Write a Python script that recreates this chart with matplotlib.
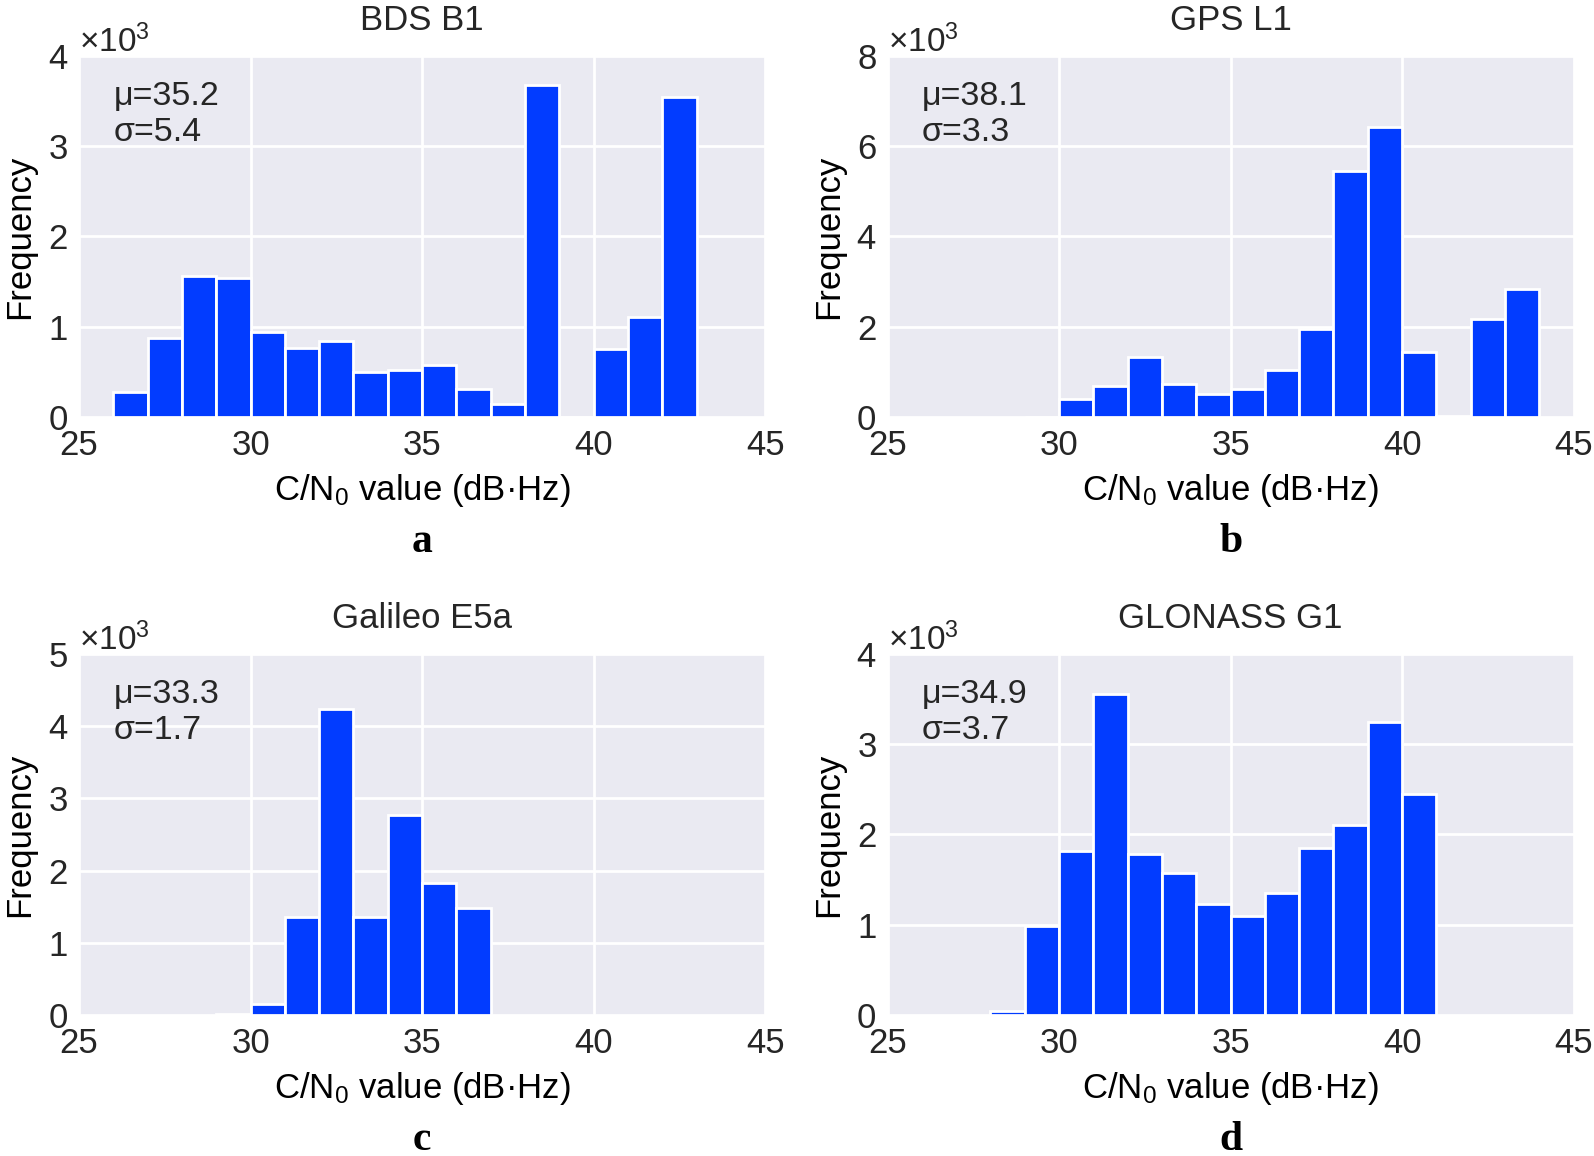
import matplotlib
matplotlib.use('Agg')
import matplotlib.pyplot as plt
import numpy as np

# Histogram counts per 1 dB-Hz bin
bds_start = 26
bds_counts = [280, 880, 1557, 1545, 938, 766, 838, 503, 523, 571, 315, 148, 3680, 0, 754, 1106, 3550]

gps_start = 29
gps_counts = [10, 390, 690, 1330, 730, 500, 630, 1040, 1960, 5460, 6430, 1450, 30, 2170, 2840]

gal_start = 29
gal_counts = [10, 150, 1360, 4240, 1350, 2770, 1830, 1480]

glo_start = 28
glo_counts = [40, 990, 1820, 3560, 1780, 1570, 1230, 1100, 1350, 1850, 2100, 3250, 2450]

titles = ['BDS B1', 'GPS L1', 'Galileo E5a', 'GLONASS G1']
panel_letters = ['a', 'b', 'c', 'd']
means = [35.2, 38.1, 33.3, 34.9]
stds = [5.4, 3.3, 1.7, 3.7]
ymax = [4000, 8000, 5000, 4000]
ystep = [1000, 2000, 1000, 1000]

plt.rcParams['font.family'] = ['Liberation Sans', 'DejaVu Sans']
plt.rcParams['mathtext.fontset'] = 'custom'
plt.rcParams['mathtext.rm'] = 'Liberation Sans'
plt.rcParams['mathtext.it'] = 'Liberation Sans:italic'
plt.rcParams['text.color'] = '#262626'

fig = plt.figure(figsize=(15.94, 11.56), dpi=100)

# axes rectangles [left, bottom, width, height]
positions = [
    [0.0496, 0.6393, 0.4304, 0.3123],
    [0.5568, 0.6393, 0.4304, 0.3123],
    [0.0496, 0.1220, 0.4304, 0.3123],
    [0.5568, 0.1220, 0.4304, 0.3123],
]
datasets = [(bds_start, bds_counts), (gps_start, gps_counts),
            (gal_start, gal_counts), (glo_start, glo_counts)]

bar_color = '#023CFF'

for i, (start, counts) in enumerate(datasets):
    ax = fig.add_axes(positions[i])
    ax.set_facecolor('#EAEAF2')
    ax.set_axisbelow(True)
    ax.grid(True, color='white', linewidth=2)
    for s in ax.spines.values():
        s.set_visible(False)

    edges = np.arange(start, start + len(counts) + 1)
    ax.bar(edges[:-1], counts, width=1, align='edge', color=bar_color,
           edgecolor='white', linewidth=2)

    ax.set_xlim(25, 45)
    ax.set_ylim(0, ymax[i])
    ax.set_xticks([25, 30, 35, 40, 45])
    ax.set_yticks(np.arange(0, ymax[i] + 1, ystep[i]))
    ax.ticklabel_format(axis='y', style='sci', scilimits=(0, 0), useMathText=True)
    ax.tick_params(axis='both', length=0, labelsize=25, colors='#262626')
    ax.tick_params(axis='x', pad=9)
    ax.tick_params(axis='y', pad=8)
    ax.yaxis.get_offset_text().set_fontsize(24)

    ax.set_title(titles[i], fontsize=25, pad=19)
    ax.set_xlabel('C/N$_\\mathregular{0}$ value (dB·Hz)', fontsize=25, labelpad=7)
    ax.set_ylabel('Frequency', fontsize=25, labelpad=8)

    ax.text(0.05, 0.93, f'μ={means[i]}\nσ={stds[i]}', transform=ax.transAxes,
            fontsize=24.5, va='top', ha='left', linespacing=1.2)

    ax.text(0.5, -0.345, panel_letters[i], transform=ax.transAxes,
            fontsize=30, fontweight='bold', ha='center', va='center',
            family=['Liberation Serif', 'DejaVu Serif'], color='black')

fig.savefig('out.png', dpi=100)
